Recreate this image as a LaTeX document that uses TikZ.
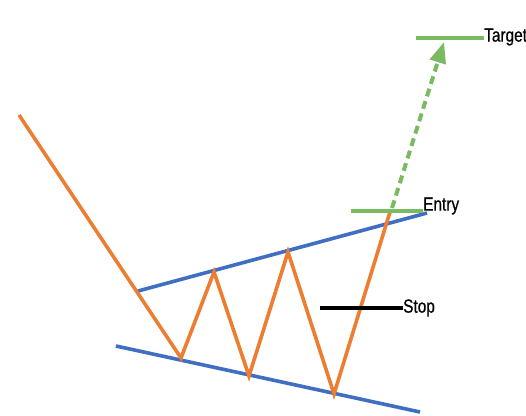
\documentclass[tikz,border=0pt]{standalone}
\usepackage{fontspec}
\setmainfont{Liberation Sans}[FakeStretch=0.81,FakeBold=0.6]
\usetikzlibrary{arrows.meta}
\definecolor{corange}{HTML}{ED7D31}
\definecolor{cblue}{HTML}{3F6EC2}
\definecolor{cgreen}{HTML}{7ABB62}
\begin{document}
\begin{tikzpicture}[x=1pt,y=-1pt,
  price/.style={draw=corange,line width=3.6pt,line join=miter},
  trend/.style={draw=cblue,line width=3.6pt},
  level/.style={draw=cgreen,line width=3.6pt},
  stopline/.style={draw=black,line width=3.6pt},
  lbl/.style={anchor=west,inner sep=0pt,font=\fontsize{19}{19}\selectfont},
  proj/.style={draw=cgreen,line width=4pt,dash pattern=on 8pt off 5pt,-{Triangle[length=21pt,width=16pt]}}]
\useasboundingbox (0,0) rectangle (526,415);
% trend lines
\coordinate (t1) at (138,291);
\coordinate (t2) at (427,213);
\coordinate (b1) at (116,346);
\coordinate (b2) at (420,412);
\draw[trend] (t1) -- (t2);
\draw[trend] (b1) -- (b2);
% price path
\coordinate (p0) at (19,115);
\coordinate (p1) at (181,358);
\coordinate (p2) at (214,272);
\coordinate (p3) at (249,376);
\coordinate (p4) at (288,252);
\coordinate (p5) at (334,394);
\coordinate (p6) at (390,212);
\draw[price] (p0) -- (p1) -- (p2) -- (p3) -- (p4) -- (p5) -- (p6);
% entry
\coordinate (e1) at (351,211);
\node[lbl] (entry) at (423,206) {Entry};
\draw[level] (e1) -- (entry.west |- e1);
% target
\coordinate (g1) at (416,38);
\node[lbl] (target) at (484,37) {Target};
\draw[level] (g1) -- (target.west |- g1);
% projection arrow
\coordinate (a1) at (392,208);
\coordinate (a2) at (444,42);
\draw[proj] (a1) -- (a2);
% stop
\coordinate (s1) at (320,308);
\node[lbl] (stop) at (403,308) {Stop};
\draw[stopline] (s1) -- (stop.west |- s1);
\end{tikzpicture}
\end{document}
